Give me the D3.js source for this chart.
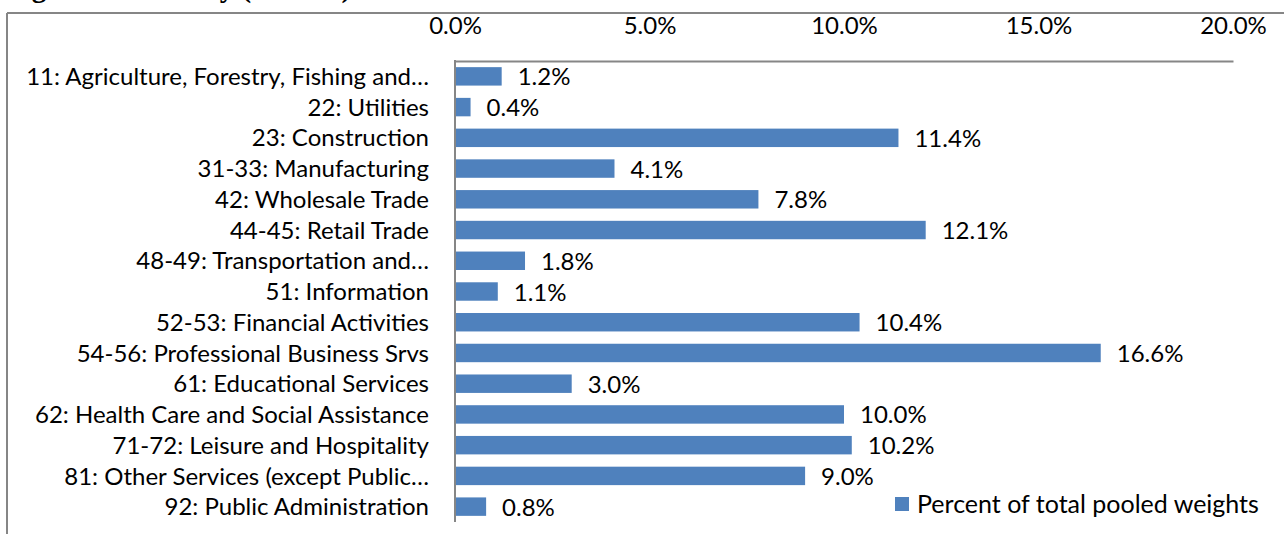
<!DOCTYPE html>
<html>
<head>
<meta charset="utf-8">
<script src="https://cdn.jsdelivr.net/npm/d3@7"></script>
<style>
  html, body { margin: 0; padding: 0; background: #fff; }
  svg { display: block; }
  text { font-family: Lato, "Open Sans", sans-serif; fill: #000; }
</style>
</head>
<body>
<svg id="chart" width="1284" height="534"></svg>
<script>
"use strict";

// --- data ---

const categories = [
    "11: Agriculture, Forestry, Fishing and…",
    "22: Utilities",
    "23: Construction",
    "31-33: Manufacturing",
    "42: Wholesale Trade",
    "44-45: Retail Trade",
    "48-49: Transportation and…",
    "51: Information",
    "52-53: Financial Activities",
    "54-56: Professional Business Srvs",
    "61: Educational Services",
    "62: Health Care and Social Assistance",
    "71-72: Leisure and Hospitality",
    "81: Other Services (except Public…",
    "92: Public Administration"
]

const percentOfPooledWeights = [1.2, 0.4, 11.4, 4.1, 7.8, 12.1, 1.8, 1.1, 10.4, 16.6, 3.0, 10.0, 10.2, 9.0, 0.8]

const xTicks = [0, 5, 10, 15, 20]

const seriesName = "Percent of total pooled weights"
const titleText = "Figure 2: Industry (NAICS)"

// --- layout ---

const svg = d3.select("#chart")
const plotLeft = 455
const plotRight = 1233
const plotTop = 61
const plotBottom = 522
const barColor = "#4f81bd"
const lineColor = "#868686"
const fontPx = "24px"

const x = d3.scaleLinear().domain([0, 20]).range([plotLeft, plotRight])
const y = d3.scaleBand().domain(categories).range([plotTop, plotBottom]).paddingInner(0.4).paddingOuter(0.2)

// title sits above the frame, only its descenders show
svg.append("text")
    .attr("x", 6)
    .attr("y", -3)
    .style("font-family", "'Liberation Serif', serif")
    .style("font-weight", "bold")
    .style("font-size", "29px")
    .text(titleText)

// chart frame (top and left visible)
svg.append("line")
    .attr("x1", 7).attr("x2", 1284)
    .attr("y1", 13).attr("y2", 13)
    .attr("stroke", lineColor).attr("stroke-width", 2)
svg.append("line")
    .attr("x1", 7).attr("x2", 7)
    .attr("y1", 13).attr("y2", 534)
    .attr("stroke", lineColor).attr("stroke-width", 2)

// bars
svg.append("g")
    .selectAll("rect")
    .data(percentOfPooledWeights)
    .enter().append("rect")
    .attr("x", x(0))
    .attr("y", (d, i) => y(categories[i]))
    .attr("width", d => x(d) - x(0))
    .attr("height", y.bandwidth())
    .attr("fill", barColor)

// value labels
svg.append("g")
    .selectAll("text")
    .data(percentOfPooledWeights)
    .enter().append("text")
    .attr("x", d => x(d) + 16)
    .attr("y", (d, i) => y(categories[i]) + y.bandwidth() / 2 + 9)
    .style("font-size", fontPx)
    .text(d => d.toFixed(1) + "%")

// top axis
const xAxis = d3.axisTop(x)
    .tickValues(xTicks)
    .tickSize(0)
    .tickPadding(0)
    .tickFormat(d => d.toFixed(1) + "%")

const gx = svg.append("g")
    .attr("transform", "translate(0," + plotTop + ")")
    .call(xAxis)
gx.select(".domain").attr("stroke", lineColor).attr("stroke-width", 2)
gx.selectAll(".tick text")
    .attr("y", 34 - plotTop)
    .attr("dy", 0)
    .style("font-family", "Lato, sans-serif")
    .style("font-size", fontPx)
    .attr("fill", "#000")

// left axis
const yAxis = d3.axisLeft(y).tickSize(0).tickPadding(26)
const gy = svg.append("g")
    .attr("transform", "translate(" + plotLeft + ",0)")
    .call(yAxis)
gy.select(".domain").remove()
gy.append("line")
    .attr("x1", 0).attr("x2", 0)
    .attr("y1", plotTop - 1).attr("y2", plotBottom)
    .attr("stroke", lineColor).attr("stroke-width", 2)
gy.selectAll(".tick text")
    .attr("dy", "0.36em")
    .style("font-family", "Lato, sans-serif")
    .style("font-size", fontPx)
    .attr("fill", "#000")

// legend
const legend = svg.append("g").attr("transform", "translate(895,497)")
legend.append("rect")
    .attr("width", 14).attr("height", 14)
    .attr("fill", barColor)
legend.append("text")
    .attr("x", 22).attr("y", 16)
    .style("font-size", "25px")
    .text(seriesName)
</script>
</body>
</html>
